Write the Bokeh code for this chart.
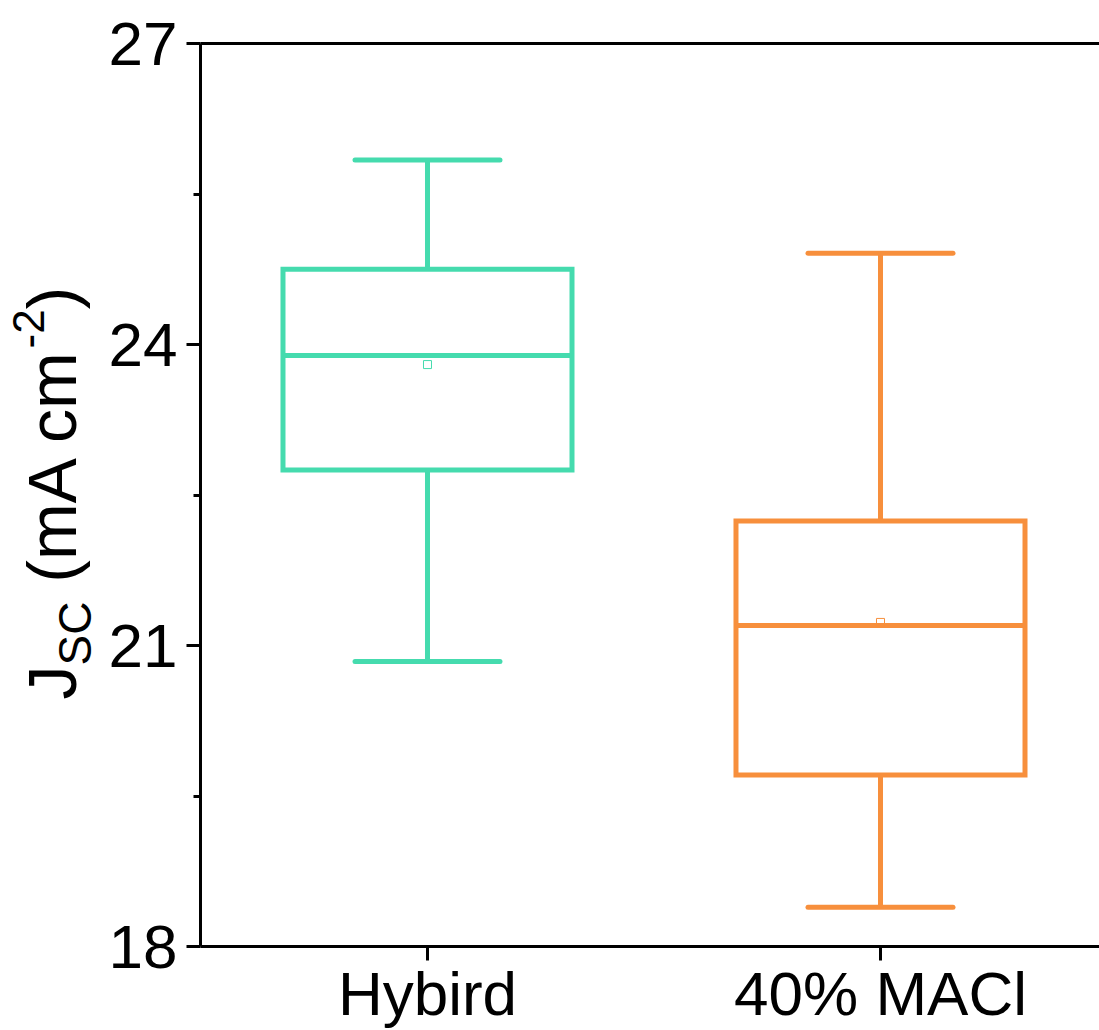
from bokeh.plotting import figure
from bokeh.models import Range1d, FixedTicker, LinearAxis, ColumnDataSource
from bokeh.layouts import row
from bokeh.core.properties import value
from bokeh.embed import file_html
from bokeh.resources import INLINE
import math

# ---- data ----
categories = ["Hybird", "40% MACl"]
positions = [1, 2]
whisker_low = [20.84, 18.39]
q1 = [22.75, 19.71]
median = [23.89, 21.20]
mean = [23.80, 21.23]
q3 = [24.75, 22.24]
whisker_high = [25.84, 24.91]
colors = ["#45DBAE", "#F78F3C"]

y_ticks = [18, 21, 24, 27]
y_minor = [19.5, 22.5, 25.5]

FONT = "Liberation Sans"
BOX_W = 0.638
CAP_W = 0.32
LW = 5

LAB_W, H = 100, 1030
TOP, BOTTOM = 43, 84          # main plot borders (frame from y=43 to y=946)

# ---- label strip (holds the rotated y-axis title with sub/superscripts) ----
# the row aligns this strip's frame with the main frame, so its y range
# spans the same pixel rows (measured from the top of the page)
lab = figure(width=LAB_W, height=H, output_backend="svg", toolbar_location=None,
             x_range=Range1d(0, LAB_W), y_range=Range1d(BOTTOM, H - TOP),
             min_border=0, x_axis_location=None, y_axis_location=None)
lab.outline_line_color = None
lab.xgrid.visible = False
lab.ygrid.visible = False

# Arial / Liberation Sans advance widths (per 1000 em)
ADV = {"J": 500, "S": 667, "C": 722, " ": 278, "(": 333, "m": 833, "A": 667,
       "c": 500, "-": 333, "2": 556, ")": 333}

F, FS, FP = 68, 46, 44
# (text, font size, baseline px from left, gap before in em of main font)
title_parts = [("J", F, 75, 0.0), ("SC", FS, 91, 0.0), ("(mA cm", F, 75, 0.278),
               ("-2", FP, 43, 0.0), (")", F, 75, 0.0)]
pos_y = 699  # start of the title run, px from top
for txt, fs, bx, gap in title_parts:
    pos_y -= gap * F
    adv = sum(ADV[ch] for ch in txt) / 1000.0 * fs
    cy = pos_y - adv / 2.0
    cx = bx - 0.35 * fs
    lab.text(x=[cx], y=[H - cy], text=[txt], angle=math.pi / 2,
             text_font=value(FONT), text_font_size=f"{fs}px", text_color="black",
             text_align="center", text_baseline="middle")
    pos_y -= adv

# ---- main plot ----
X0 = 0.4989
p = figure(width=1099 - LAB_W, height=H, output_backend="svg", toolbar_location=None,
           x_range=Range1d(X0, X0 + 899 / 453.0), y_range=Range1d(18, 27),
           min_border_left=100, min_border_right=0, min_border_top=TOP, min_border_bottom=BOTTOM)
p.outline_line_color = None
p.xgrid.visible = False
p.ygrid.visible = False

src = ColumnDataSource(dict(
    x=positions,
    left=[v - BOX_W / 2 for v in positions],
    right=[v + BOX_W / 2 for v in positions],
    cl=[v - CAP_W / 2 for v in positions],
    cr=[v + CAP_W / 2 for v in positions],
    wl=whisker_low, q1=q1, med=median, mean=mean, q3=q3, wh=whisker_high,
    color=colors,
))

p.segment(x0="x", y0="q3", x1="x", y1="wh", source=src, line_color="color", line_width=LW)
p.segment(x0="x", y0="q1", x1="x", y1="wl", source=src, line_color="color", line_width=LW)
p.segment(x0="cl", y0="wh", x1="cr", y1="wh", source=src, line_color="color", line_width=LW, line_cap="round")
p.segment(x0="cl", y0="wl", x1="cr", y1="wl", source=src, line_color="color", line_width=LW, line_cap="round")
p.quad(left="left", right="right", bottom="q1", top="q3", source=src,
       fill_color=None, line_color="color", line_width=LW, line_join="miter")
p.segment(x0="left", y0="med", x1="right", y1="med", source=src, line_color="color", line_width=LW)
p.scatter(x="x", y="mean", source=src, marker="square", size=8, fill_color=None,
          line_color="color", line_width=1)

ya = p.yaxis[0]
ya.ticker = FixedTicker(ticks=y_ticks, minor_ticks=y_minor)
ya.axis_line_width = 3
ya.major_tick_line_width = 3
ya.minor_tick_line_width = 3
ya.major_tick_out = 14
ya.major_tick_in = 0
ya.minor_tick_out = 7
ya.minor_tick_in = 0
ya.major_label_text_font = FONT
ya.major_label_text_font_size = "62px"
ya.major_label_text_color = "black"
ya.major_label_standoff = 9

xa = p.xaxis[0]
xa.ticker = FixedTicker(ticks=positions, minor_ticks=[])
xa.major_label_overrides = {pos: c for pos, c in zip(positions, categories)}
xa.axis_line_width = 3
xa.major_tick_line_width = 3
xa.major_tick_out = 14
xa.major_tick_in = 0
xa.minor_tick_out = 0
xa.minor_tick_in = 0
xa.major_label_text_font = FONT
xa.major_label_text_font_size = "62px"
xa.major_label_text_color = "black"
xa.major_label_standoff = -2

top = LinearAxis(ticker=FixedTicker(ticks=[], minor_ticks=[]), major_label_text_font_size="0px",
                 axis_line_width=3, major_tick_out=0, major_tick_in=0, minor_tick_out=0, minor_tick_in=0)
p.add_layout(top, "above")

layout = row(lab, p)
open("out.html", "w").write(file_html(layout, INLINE))
